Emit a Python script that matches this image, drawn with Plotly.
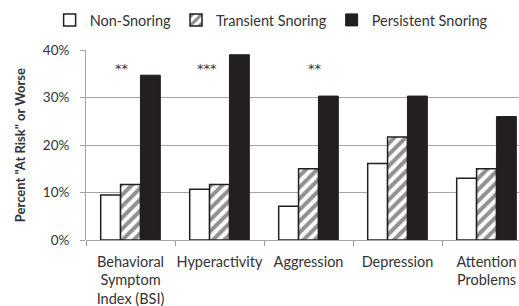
import plotly.graph_objects as go

categories = ["Behavioral<br>Symptom<br>Index (BSI)", "Hyperactivity", "Aggression", "Depression", "Attention<br>Problems"]
non_snoring = [0.095, 0.107, 0.071, 0.161, 0.130]
transient = [0.117, 0.117, 0.150, 0.217, 0.150]
persistent = [0.347, 0.390, 0.303, 0.303, 0.260]
sig_labels = ["**", "***", "**", "", ""]
sig_x = [-0.1, 0.86, 2.07]

xpos = list(range(len(categories)))
font_fam = "Lato, 'Open Sans', sans-serif"

fig = go.Figure()
fig.add_bar(x=xpos, y=non_snoring, name="Non-Snoring",
            marker=dict(color="white", line=dict(color="#231f20", width=1.5)))
fig.add_bar(x=xpos, y=transient, name="Transient Snoring",
            marker=dict(color="white", line=dict(color="#231f20", width=1.5),
                        pattern=dict(shape="/", fgcolor="#231f20", bgcolor="white", size=8, solidity=0.5)))
fig.add_bar(x=xpos, y=persistent, name="Persistent Snoring",
            marker=dict(color="#231f20", line=dict(color="#231f20", width=1)))

for i, s in enumerate(sig_labels):
    if s:
        fig.add_annotation(x=sig_x[i], y=0.362, text=s, showarrow=False,
                           font=dict(size=13, color="#333", family="DejaVu Sans"))

fig.add_annotation(x=-0.152, xref="paper", y=0.5, yref="paper", xanchor="center", yanchor="middle",
                   text='<b>Percent "At Risk" or Worse</b>', textangle=-90, showarrow=False,
                   font=dict(size=13, color="#333", family=font_fam))

fig.update_layout(
    width=519, height=306,
    margin=dict(l=86, r=0, t=50, b=66, autoexpand=False),
    paper_bgcolor="white", plot_bgcolor="white",
    barmode="group", bargap=0.33, bargroupgap=0,
    font=dict(family=font_fam, color="#333", size=13.5),
    legend=dict(orientation="h", xref="paper", x=-0.084, xanchor="left",
                y=1.158, yref="paper", yanchor="middle", bgcolor="rgba(0,0,0,0)",
                font=dict(size=14.5, color="#333"), itemwidth=30, traceorder="normal"),
    showlegend=True,
)
fig.update_xaxes(
    tickmode="array", tickvals=xpos, ticktext=categories,
    range=[-0.5, 4.365], showgrid=False, zeroline=False, automargin=False,
    showline=False, ticks="", ticklabelstandoff=11,
    minor=dict(tickmode="linear", tick0=0.5, dtick=1, ticks="outside", ticklen=5, tickcolor="#999", showgrid=False),
    tickfont=dict(size=14.5, color="#333"),
)
fig.update_yaxes(
    range=[0, 0.4], dtick=0.1, tickformat=".0%", automargin=False,
    showgrid=True, gridcolor="#a6a6a6", gridwidth=1,
    zeroline=True, zerolinecolor="#a6a6a6", zerolinewidth=1,
    showline=True, linecolor="#a6a6a6", linewidth=1,
    ticks="outside", ticklen=5, tickcolor="#a6a6a6",
    ticklabelstandoff=8,
    tickfont=dict(size=13.5, color="#333"),
)

fig.write_html("out.html", config={"staticPlot": True, "displayModeBar": False},
               post_script="document.body.style.margin='0';document.documentElement.style.overflow='hidden';")
